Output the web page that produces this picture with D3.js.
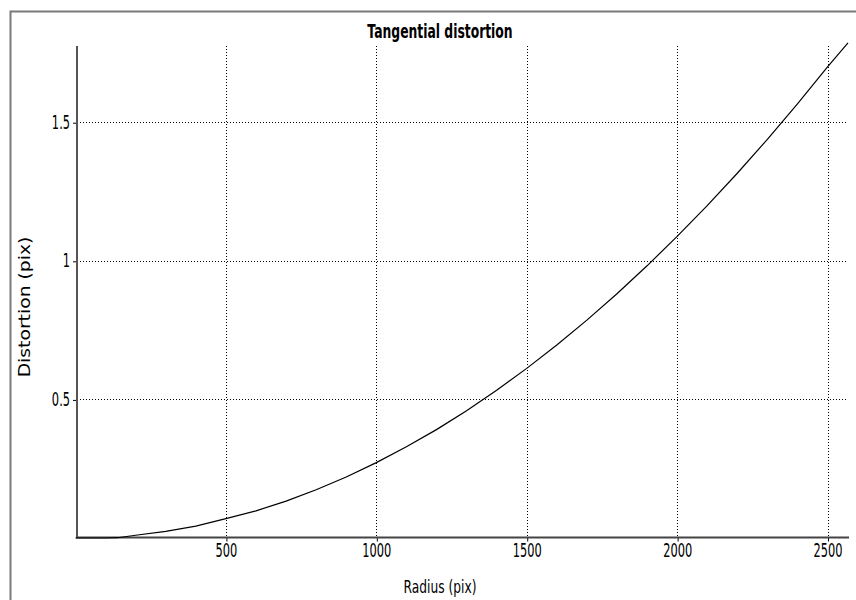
<!DOCTYPE html>
<html>
<head>
<meta charset="utf-8">
<script src="https://cdn.jsdelivr.net/npm/d3@7"></script>
<style>
  html, body { margin: 0; padding: 0; background: #fff; }
  svg { display: block; }
</style>
</head>
<body>
<svg id="chart" width="856" height="600"></svg>
<script>
// Tangential distortion curve: radius (pix) vs distortion (pix)
const radius = [0, 100, 140, 200, 300, 400, 500, 600, 700, 800, 900, 1000, 1100, 1200, 1300,
  1400, 1500, 1600, 1700, 1800, 1900, 2000, 2100, 2200, 2300, 2400, 2500, 2568];
const distortion = [0, 0.000, 0.001, 0.010, 0.024, 0.043, 0.070, 0.098, 0.133, 0.174, 0.220,
  0.272, 0.329, 0.391, 0.459, 0.533, 0.612, 0.696, 0.786, 0.881, 0.982, 1.088, 1.199, 1.316,
  1.438, 1.566, 1.700, 1.786];
const xTicks = [500, 1000, 1500, 2000, 2500];
const yTicks = [0.5, 1, 1.5];
const yTickLabels = ["0.5", "1", "1.5"];

const svg = d3.select("#chart");
const FONT = "'DejaVu Sans', Verdana, sans-serif";

// squeeze a text element horizontally to a narrow face
function condense(sel, factor) {
  sel.each(function () {
    const w = this.getComputedTextLength();
    d3.select(this).attr("textLength", w * factor).attr("lengthAdjust", "spacingAndGlyphs");
  });
}

const x = d3.scaleLinear().domain([0, 2568]).range([75.5, 848]);
const y = d3.scaleLinear().domain([0, 1.775]).range([538, 46]);

// outer frame
svg.append("path")
  .attr("d", "M10.5,600 L10.5,11.5 L856,11.5")
  .attr("fill", "none").attr("stroke", "#7a7a7a").attr("stroke-width", 2);

// grid
const grid = svg.append("g");
grid.selectAll("line.v").data(xTicks).join("line")
  .attr("x1", d => Math.round(x(d)) + 0.5).attr("x2", d => Math.round(x(d)) + 0.5)
  .attr("y1", 46).attr("y2", 537)
  .attr("stroke", "#000").attr("stroke-dasharray", "1,2");
grid.selectAll("line.h").data(yTicks).join("line")
  .attr("y1", d => Math.round(y(d)) + 0.5).attr("y2", d => Math.round(y(d)) + 0.5)
  .attr("x1", 77).attr("x2", 848)
  .attr("stroke", "#000").attr("stroke-dasharray", "1,2");

// axes
const xAxis = d3.axisBottom(x).tickValues(xTicks).tickSize(4).tickPadding(2).tickFormat(d3.format("d"));
const yAxis = d3.axisLeft(y).tickValues(yTicks).tickSize(4).tickPadding(3)
  .tickFormat((d, i) => yTickLabels[i]);

const gx = svg.append("g").attr("transform", "translate(0,537.5)").call(xAxis);
const gy = svg.append("g").attr("transform", "translate(77,0)").call(yAxis);

[gx, gy].forEach(g => {
  g.select(".domain").remove();
  g.selectAll("line").attr("stroke", "#000");
  g.selectAll("text").attr("fill", "#000")
    .attr("font-family", FONT)
    .attr("font-size", 19)
    .call(condense, 0.6);
});
gx.selectAll(".tick line").attr("transform", "translate(0.5,0)");
gy.selectAll(".tick line").attr("transform", "translate(0,0.5)");

// axis lines
svg.append("line").attr("x1", 77).attr("x2", 77).attr("y1", 46).attr("y2", 538)
  .attr("stroke", "#555").attr("stroke-width", 2);
svg.append("line").attr("x1", 76).attr("x2", 849).attr("y1", 537.5).attr("y2", 537.5)
  .attr("stroke", "#444").attr("stroke-width", 2);

// curve
const pts = radius.map((r, i) => [r, distortion[i]]);
svg.append("path")
  .datum(pts)
  .attr("fill", "none").attr("stroke", "#000").attr("stroke-width", 1.2)
  .attr("d", d3.line().x(d => x(d[0])).y(d => y(d[1])));

// title
svg.append("text")
  .attr("x", 440).attr("y", 38).attr("text-anchor", "middle")
  .attr("font-family", FONT)
  .attr("font-weight", "bold").attr("font-size", 19)
  .text("Tangential distortion")
  .call(condense, 0.65);

// axis titles
svg.append("text")
  .attr("x", 440).attr("y", 593).attr("text-anchor", "middle")
  .attr("font-family", FONT)
  .attr("font-size", 18)
  .text("Radius (pix)")
  .call(condense, 0.68);

svg.append("text")
  .attr("transform", "translate(30,307) rotate(-90)")
  .attr("text-anchor", "middle")
  .attr("font-family", FONT)
  .attr("font-size", 15)
  .text("Distortion (pix)")
  .call(condense, 1.25);
</script>
</body>
</html>
